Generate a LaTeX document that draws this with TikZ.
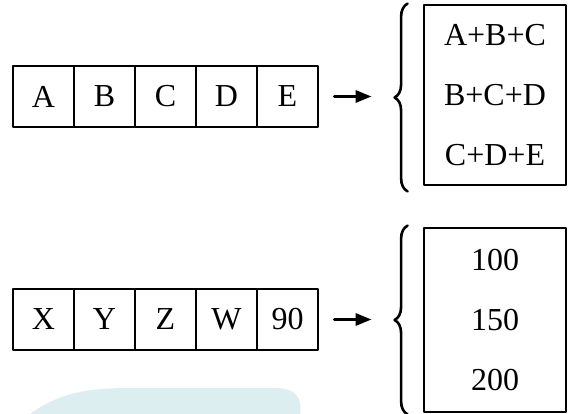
\documentclass[tikz,border=0pt]{standalone}
\usepackage{fontspec}
\setmainfont{Liberation Serif}
\usetikzlibrary{arrows.meta,decorations.pathreplacing}
\definecolor{wmark}{RGB}{220,238,240}
\tikzset{
  cell/.style={draw, line width=2.8pt, minimum width=61pt, minimum height=61pt, inner sep=0pt},
  sumbox/.style={draw, line width=2.8pt, minimum width=142pt, align=center, inner sep=0pt},
  arr/.style={line width=3pt, -{Triangle[length=16pt,width=12pt]}},
  brc/.style={line width=2.6pt, decorate, decoration={brace,amplitude=13pt}}
}
\begin{document}
\begin{tikzpicture}[x=1pt, y=-1pt, font=\fontsize{32}{60}\selectfont, line join=round, line cap=round]
\useasboundingbox (0,0) rectangle (573,414);
\fill[wmark] (30,414) .. controls (60,392) and (90,388) .. (130,388) -- (275,388) .. controls (298,388) and (302,400) .. (300,414) -- cycle;
% upper row
\foreach \t [count=\i] in {A,B,C,D,E}
  \node[cell] (u\i) at (43.5+61*\i-61,96.5) {\t};
\node[sumbox, minimum height=180pt] (usum) at (495,95) {A+B+C\\B+C+D\\C+D+E};
\coordinate (ut) at ([xshift=-28pt]usum.west);
\draw[brc] ([xshift=-15pt,yshift=-5pt]usum.south west) -- ([xshift=-15pt]usum.north west);
\draw[arr, shorten <=15pt, shorten >=23pt] (u5.east) -- (u5.east -| ut);
% lower row
\foreach \t [count=\i] in {X,Y,Z,W,90}
  \node[cell] (l\i) at (43.5+61*\i-61,319.5) {\t};
\node[sumbox, minimum height=184pt] (lsum) at (495,320) {100\\150\\200};
\coordinate (lt) at ([xshift=-28pt]lsum.west);
\draw[brc] ([xshift=-15pt,yshift=-1pt]lsum.south west) -- ([xshift=-15pt,yshift=1pt]lsum.north west);
\draw[arr, shorten <=15pt, shorten >=23pt] (l5.east) -- (l5.east -| lt);
\end{tikzpicture}
\end{document}
